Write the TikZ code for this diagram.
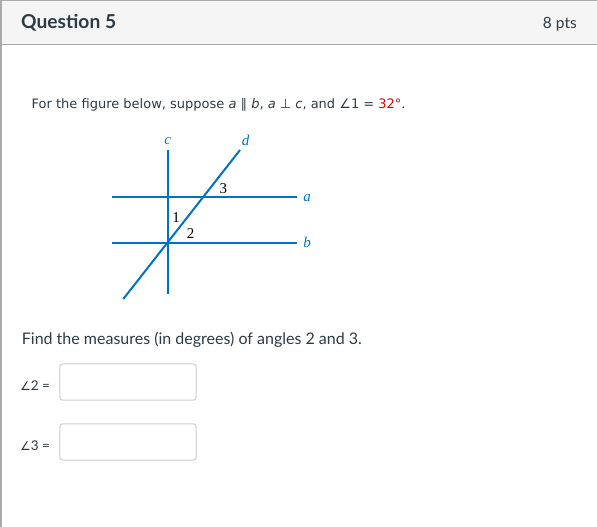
\documentclass[tikz,border=0pt]{standalone}
\usepackage{fontspec}
\setmainfont{Lato}
\newfontfamily\verdanafont{DejaVu Sans}
\newfontfamily\figfont{Liberation Serif}
\newfontfamily\symbolfont{DejaVu Sans}
\definecolor{r0g114b198}{RGB}{0,114,198}
\definecolor{r230g0b0}{RGB}{230,0,0}
\definecolor{r245g245b245}{RGB}{245,245,245}
\definecolor{r170g170b170}{RGB}{170,170,170}
\definecolor{r200g205b209}{RGB}{200,205,209}
\definecolor{r45g59b69}{RGB}{45,59,69}
\tikzset{
  figline/.style={line width=2pt, r0g114b198},
  figlabel/.style={inner sep=0pt, anchor=base, font=\figfont\itshape\fontsize{15}{15}\selectfont, text=r0g114b198},
  anglabel/.style={inner sep=0pt, anchor=base, font=\figfont\fontsize{15}{15}\selectfont},
  answerbox/.style={draw=r200g205b209, line width=1pt, rounded corners=3pt}
}
\begin{document}
\begin{tikzpicture}[x=1pt,y=-1pt]
\useasboundingbox (0,0) rectangle (597,527);
% Header band
\fill [r245g245b245] (0,0) rectangle (597,45);
\draw [r170g170b170, line width=1pt] (0,0.5) -- (597,0.5);
\draw [r170g170b170, line width=1pt] (0,45) -- (597,45);
\draw [r170g170b170, line width=1.5pt] (0.75,0) -- (0.75,527);
\draw (21,28.3) node [anchor=base west, inner sep=0pt, text=r45g59b69, font=\bfseries\fontsize{19.2}{19.2}\selectfont] (title) {Question 5};
\draw (577,28.3) node [anchor=base east, inner sep=0pt, text=r45g59b69, font=\fontsize{15.5}{15.5}\selectfont] (points) {8 pts};

% Question text
\draw (31.5,108.3) node [anchor=base west, inner sep=0pt, text=r45g59b69, font=\verdanafont\fontsize{13}{13}\selectfont] (question)
  {For the figure below, suppose \textit{a} ∥ \textit{b}, \textit{a} ⊥ \textit{c}, and ∠1 = \textcolor{r230g0b0}{32°}.};

% Line end points
\coordinate (c1) at (167.7,150);
\coordinate (c2) at (167.7,294);
\coordinate (a1) at (111.7,197.3);
\coordinate (a2) at (296.7,197.3);
\coordinate (b1) at (111.7,243.3);
\coordinate (b2) at (296.7,243.3);
\coordinate (d1) at (123.3,299);
\coordinate (d2) at (240,150);

% Drawing lines a b c d
\draw [figline] (a1) -- (a2);
\draw [figline] (b1) -- (b2);
\draw [figline] (c1) -- (c2);
\draw [figline] (d1) -- (d2);

% Marking lines
\draw (167.7,144.3) node [figlabel] (labc) {c};
\draw (245.7,145) node [figlabel] (labd) {d};
\draw (307,201) node [figlabel] (laba) {a};
\draw (307,247.7) node [figlabel] (labb) {b};

% Marking angles
\draw (176,222.3) node [anglabel] (ang1) {1};
\draw (190.7,238.3) node [anglabel] (ang2) {2};
\draw (223.3,193.3) node [anglabel] (ang3) {3};

% Answer part
\draw (21.7,344) node [anchor=base west, inner sep=0pt, text=r45g59b69, font=\fontsize{16}{16}\selectfont] (find)
  {Find the measures (in degrees) of angles 2 and 3.};
\draw (20,390.7) node [anchor=base west, inner sep=0pt, text=r45g59b69, font=\fontsize{13.5}{13.5}\selectfont] (eq2)
  {{\symbolfont\fontsize{12}{12}\selectfont ∠}2 =};
\draw (20,450.7) node [anchor=base west, inner sep=0pt, text=r45g59b69, font=\fontsize{13.5}{13.5}\selectfont] (eq3)
  {{\symbolfont\fontsize{12}{12}\selectfont ∠}3 =};
\draw [answerbox] (59.8,363.8) rectangle (196.2,400.2);
\draw [answerbox] (59.8,423.8) rectangle (196.2,460.2);
\end{tikzpicture}
\end{document}
